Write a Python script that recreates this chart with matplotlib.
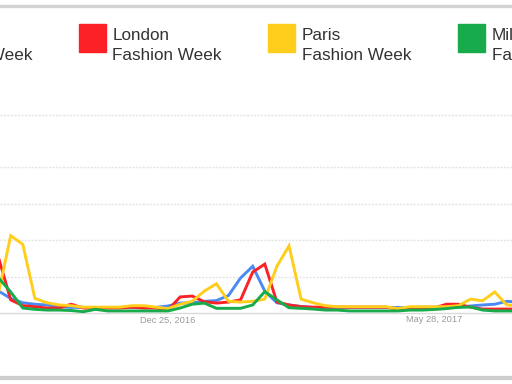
import matplotlib
matplotlib.use("Agg")
import matplotlib.pyplot as plt
import matplotlib.dates as mdates
from matplotlib.patches import Rectangle
from matplotlib.lines import Line2D
import numpy as np
import datetime as dt

# ---- data (weekly search interest) ----
start_week = dt.date(2016, 9, 18)
n_weeks = 44
weeks = [start_week + dt.timedelta(days=7 * k) for k in range(n_weeks)]

series_names = ["New York\nFashion Week", "London\nFashion Week",
                "Paris\nFashion Week", "Milan\nFashion Week"]
series_colors = ["#4a8af4", "#fb2127", "#ffcd1c", "#18ab4b"]

new_york = [15, 10, 7, 6, 5.5, 4.3, 3.8, 3.8, 3.8, 3.8, 3.8, 3.8, 3.8, 3.8, 4.8,
            6.8, 7, 8, 8.5, 12, 24, 32, 15, 7, 5.5, 4.5, 3.8, 3.8, 3.8, 3.8,
            3.8, 3.8, 3.8, 3.8, 3.4, 4, 4, 4, 4, 4.8, 5.5, 6, 8, 7.5]
london = [37.7, 9, 5, 4.3, 3.4, 3.4, 6, 3.4, 3.4, 3.4, 3.4, 4, 3.4, 3.4, 2,
          11, 11.6, 7.7, 6.8, 7.5, 9, 28, 33.5, 7.5, 5.5, 4.3, 4, 4, 4, 4,
          4, 4, 4, 2.7, 2.7, 3.4, 3.4, 6, 6, 4, 2.7, 2.7, 2.7, 2.7]
paris = [14, 53, 47, 10, 7, 5.5, 5, 4, 4, 4, 4, 5, 5, 4, 3,
         6, 8, 15, 20, 8, 7.5, 8, 9.5, 32, 46, 9.5, 7, 5, 4.3, 4.3,
         4.3, 4.3, 4.3, 3, 4.3, 4.3, 4.3, 4.3, 5, 9.5, 8.4, 14.4, 5.5, 5]
milan = [24, 14.4, 3.4, 2.5, 2, 2, 1.7, 0.9, 2.5, 1.4, 1.4, 1.4, 1.4, 1.4, 1.4,
         3.4, 6, 6.8, 3.2, 3.2, 3.2, 5.5, 14.6, 9, 3.6, 3.2, 2.7, 2, 2, 1.4,
         1.4, 1.4, 1.4, 1.4, 2, 2, 2.4, 3, 3.9, 4.1, 2, 1.4, 1.4, 1.4]
all_series = [new_york, london, paris, milan]

tick_dates = [dt.date(2016, 12, 25), dt.date(2017, 5, 28)]
tick_labels = ["Dec 25, 2016", "May 28, 2017"]
grid_values = [25, 50, 75, 100, 135.6]

# ---- figure ----
W, H = 512, 384
fig = plt.figure(figsize=(W / 100, H / 100), dpi=100)
fig.patch.set_facecolor("white")
ax = fig.add_axes([0, 0, 1, 1])
ax.set_axis_off()

# pixel-to-data mapping: 12.1 px per week, 1.46 px per unit, baseline at y=313
ref = mdates.date2num(dt.date(2016, 12, 25))
x_left = ref + (0 - 168) / 12.1 * 7
x_right = ref + (W - 168) / 12.1 * 7
ax.set_xlim(x_left, x_right)
ax.set_ylim((313 - H) / 1.46, 313 / 1.46)

for g in grid_values:
    ax.axhline(g, color="#e4e4e4", lw=1.0, ls=(0, (1.5, 1.0)), zorder=1)
ax.axhline(0, color="#d9d9d9", lw=1.0, zorder=1)

xd = mdates.date2num(weeks)
for vals, col in zip(all_series, series_colors):
    ax.plot(xd, vals, color=col, lw=2.1, solid_joinstyle="miter", zorder=3)

for d, lab in zip(tick_dates, tick_labels):
    ax.text(mdates.date2num(d), (313 - 320) / 1.46, lab, ha="center", va="center",
            fontsize=6.7, color="#9a9a9a", family="Liberation Sans", zorder=4)

# borders top & bottom
fig.add_artist(Line2D([0, 1], [1 - 6 / H, 1 - 6 / H], color="#d2d2d2", lw=2.4,
                      transform=fig.transFigure))
fig.add_artist(Line2D([0, 1], [1 - 377.5 / H, 1 - 377.5 / H], color="#cdcdcd", lw=3.0,
                      transform=fig.transFigure))

# legend
x0 = -111
step = 189.5
for k, (name, col) in enumerate(zip(series_names, series_colors)):
    sx = x0 + k * step
    fig.add_artist(Rectangle((sx / W, 1 - 51.5 / H), 27 / W, 28 / H, color=col,
                             transform=fig.transFigure))
    l1, l2 = name.split("\n")
    fig.text((sx + 34) / W, 1 - 39.5 / H, l1, ha="left", va="baseline",
             fontsize=12.3, color="#333333", family="Liberation Sans")
    fig.text((sx + 34) / W, 1 - 60 / H, l2, ha="left", va="baseline",
             fontsize=12.3, color="#333333", family="Liberation Sans")

fig.savefig("out.png", dpi=100, facecolor="white")
